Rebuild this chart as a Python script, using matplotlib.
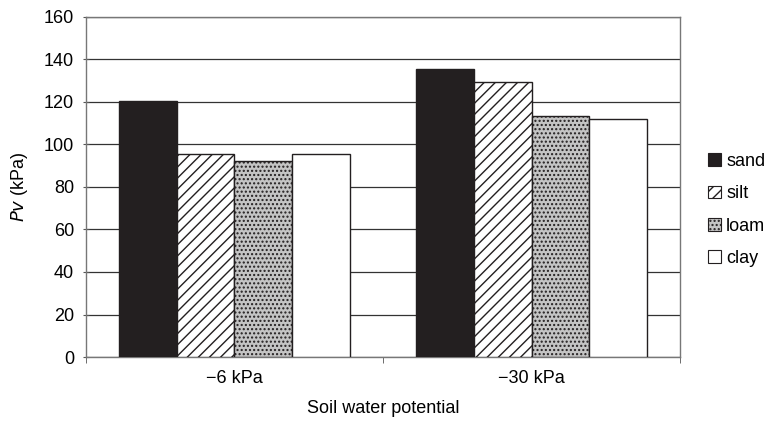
import numpy as np
import matplotlib.pyplot as plt
from matplotlib.patches import Patch

plt.rcParams['font.family'] = ['Liberation Sans', 'DejaVu Sans']

# datos
categorias = ["\u22126 kPa", "\u221230 kPa"]
suelos = ["sand", "silt", "loam", "clay"]
valores = {
    "sand": [120.5, 135.5],
    "silt": [95.5, 129.5],
    "loam": [92.0, 113.5],
    "clay": [95.5, 112.0],
}

# estilos de cada serie
estilos = {
    "sand": dict(facecolor="#231f20", hatch=None),
    "silt": dict(facecolor="white", hatch="///"),
    "loam": dict(facecolor="#c4c4c4", hatch="...."),
    "clay": dict(facecolor="white", hatch=None),
}

fig = plt.figure(figsize=(7.69, 4.24), dpi=100)
ax = fig.add_axes([0.1118, 0.158, 0.7725, 0.802])

x = np.arange(len(categorias))
ancho = 0.195

for i, s in enumerate(suelos):
    pos = x + (i - 1.5) * ancho
    ax.bar(
        pos, valores[s], ancho,
        facecolor=estilos[s]["facecolor"],
        hatch=estilos[s]["hatch"],
        edgecolor="#231f20",
        linewidth=1.0,
        zorder=3,
    )

ax.set_xlim(-0.5, 1.5)
ax.set_ylim(0, 160)
ax.set_yticks(np.arange(0, 161, 20))
ax.yaxis.grid(True, color="#333333", linewidth=0.9, zorder=0)
ax.set_xticks(x)
ax.set_xticklabels(categorias)
ax.set_xticks([-0.5, 0.5, 1.5], minor=True)
ax.tick_params(axis="x", which="major", length=0, pad=9, labelsize=13)
ax.tick_params(axis="x", which="minor", length=4, color="#555555")
ax.tick_params(axis="y", length=5, direction="inout", pad=6,
               labelsize=13, color="#555555")

for lado in ax.spines.values():
    lado.set_color("#777777")
    lado.set_linewidth(1.0)

ax.set_ylabel(r"$\it{Pv}$ (kPa)", fontsize=13, labelpad=10)
ax.set_xlabel("Soil water potential", fontsize=13, va="center")
ax.xaxis.set_label_coords(0.5, -0.15)

manijas = [
    Patch(facecolor=estilos[s]["facecolor"], hatch=estilos[s]["hatch"],
          edgecolor="#231f20", linewidth=0.8, label=s)
    for s in suelos
]
ax.legend(
    handles=manijas,
    loc="center left",
    bbox_to_anchor=(1.02, 0.432),
    frameon=False,
    fontsize=13,
    handlelength=0.7,
    handleheight=0.7,
    handletextpad=0.3,
    labelspacing=0.85,
)

fig.savefig("out.png", dpi=100)
